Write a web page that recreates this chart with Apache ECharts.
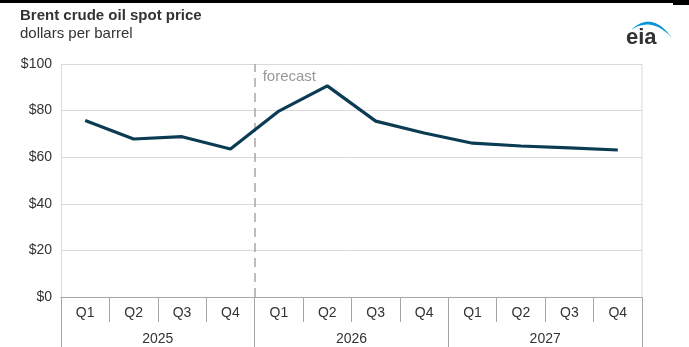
<!DOCTYPE html>
<html>
<head>
<meta charset="utf-8">
<script src="https://cdn.jsdelivr.net/npm/echarts@6/dist/echarts.min.js"></script>
<style>
  html, body { margin: 0; padding: 0; background: #fff; }
  #chart { width: 689px; height: 347px; }
</style>
</head>
<body>
<div id="chart"></div>
<script>
// Quarterly Brent spot price, history and forecast
const quarters = ['Q1', 'Q2', 'Q3', 'Q4', 'Q1', 'Q2', 'Q3', 'Q4', 'Q1', 'Q2', 'Q3', 'Q4'];
const years = ['2025', '2026', '2027'];
const brentPrice = [75.8, 67.8, 68.8, 63.5, 79.8, 90.6, 75.5, 70.4, 66.0, 64.8, 64.0, 63.1];
const yTicks = [0, 20, 40, 60, 80, 100];
const forecastStart = 4; // quarter index where forecast begins

const FONT = 'Liberation Sans, Arial, sans-serif';
const chart = echarts.init(document.getElementById('chart'));

const option = {
  animation: false,
  textStyle: { fontFamily: FONT },
  grid: { left: 61, right: 47, top: 64, bottom: 50 },
  xAxis: [
    {
      type: 'category',
      data: quarters,
      boundaryGap: true,
      axisLine: { show: true, lineStyle: { color: '#a6a6a6', width: 1 } },
      axisTick: { show: true, interval: 0, length: 25, lineStyle: { color: '#a6a6a6' } },
      axisLabel: { interval: 0, color: '#333', fontSize: 14, margin: 9, fontFamily: FONT },
      splitLine: { show: false }
    },
    {
      type: 'category',
      data: years,
      position: 'bottom',
      offset: 25,
      boundaryGap: true,
      axisLine: { show: false },
      axisTick: { show: true, interval: 0, length: 25, lineStyle: { color: '#a6a6a6' } },
      axisLabel: { interval: 0, color: '#333', fontSize: 14, margin: 10, fontFamily: FONT }
    },
    {
      type: 'value',
      min: 0,
      max: quarters.length,
      show: false
    }
  ],
  yAxis: {
    type: 'value',
    min: yTicks[0],
    max: yTicks[yTicks.length - 1],
    interval: 20,
    axisLine: { show: true, lineStyle: { color: '#d9d9d9' } },
    axisTick: { show: false },
    axisLabel: { color: '#333', fontSize: 14, margin: 9, fontFamily: FONT, formatter: v => '$' + v },
    splitLine: { show: true, lineStyle: { color: '#d9d9d9', width: 1 } }
  },
  series: [
    {
      name: 'forecast divider',
      type: 'line',
      xAxisIndex: 2,
      data: [],
      silent: true,
      markLine: {
        symbol: ['none', 'none'],
        silent: true,
        label: { show: false },
        lineStyle: { color: '#a6a6a6', type: [9, 6], width: 1.5 },
        data: [{ xAxis: forecastStart }]
      }
    },
    {
      name: 'Brent',
      type: 'line',
      data: brentPrice,
      symbol: 'none',
      lineStyle: { color: '#0b3c53', width: 3.2 },
      z: 5
    }
  ]
};
chart.setOption(option);

// crescent swoosh of the logo
function quad(p0, c, p1, n) {
  const pts = [];
  for (let i = 0; i <= n; i++) {
    const t = i / n, u = 1 - t;
    pts.push([u * u * p0[0] + 2 * u * t * c[0] + t * t * p1[0],
              u * u * p0[1] + 2 * u * t * c[1] + t * t * p1[1]]);
  }
  return pts;
}
const swoosh = quad([631, 30], [652, 10], [672, 38], 24)
  .concat(quad([672, 38], [652, 16], [631, 30], 24));

// right border of the plot, forecast label and header artwork
const topLeft = chart.convertToPixel({ xAxisIndex: 2, yAxisIndex: 0 }, [forecastStart, yTicks[yTicks.length - 1]]);
const rightEdge = chart.convertToPixel({ xAxisIndex: 2, yAxisIndex: 0 }, [quarters.length, 0]);
chart.setOption({
  graphic: [
    { type: 'line', shape: { x1: rightEdge[0], y1: topLeft[1], x2: rightEdge[0], y2: rightEdge[1] },
      style: { stroke: '#d9d9d9', lineWidth: 1 }, z: 1 },
    { type: 'text', x: topLeft[0] + 8, y: topLeft[1] + 5,
      style: { text: 'forecast', fill: '#999', font: '15px ' + FONT, verticalAlign: 'top' } },
    { type: 'rect', shape: { x: 0, y: 0, width: 673, height: 3 }, style: { fill: '#000' } },
    { type: 'rect', shape: { x: 673, y: 0, width: 16, height: 5 }, style: { fill: '#000' } },
    { type: 'text', x: 20, y: 8,
      style: { text: 'Brent crude oil spot price', fill: '#333', font: 'bold 15px ' + FONT, verticalAlign: 'top' } },
    { type: 'text', x: 20, y: 26,
      style: { text: 'dollars per barrel', fill: '#333', font: '15px ' + FONT, verticalAlign: 'top' } },
    { type: 'polygon', shape: { points: swoosh }, style: { fill: '#0096d7' } },
    { type: 'text', x: 626, y: 27,
      style: { text: 'eia', fill: '#333', font: 'bold 22px ' + FONT, verticalAlign: 'top' } }
  ]
});
</script>
</body>
</html>
